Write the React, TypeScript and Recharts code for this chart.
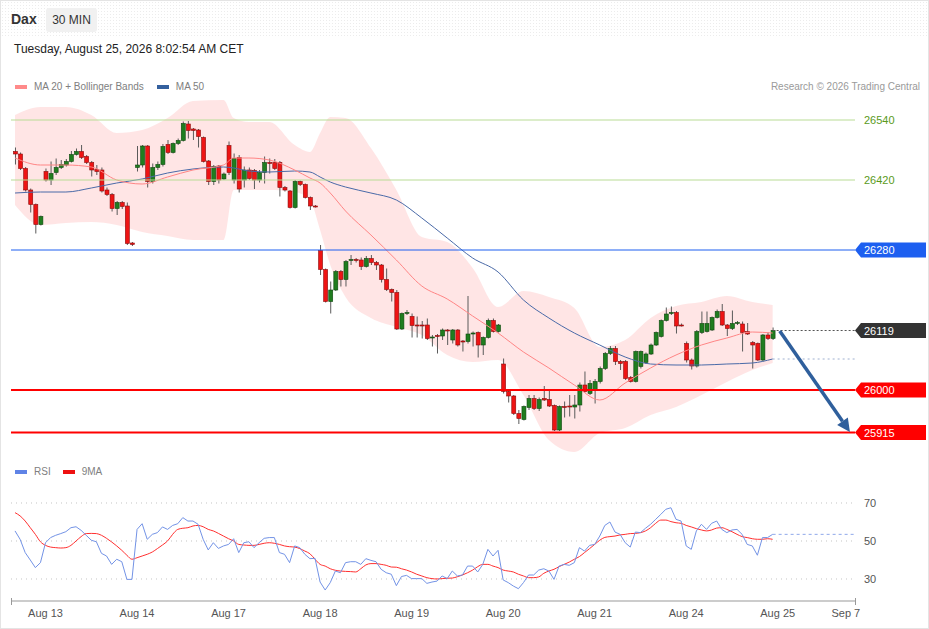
import React from 'react';
import { ComposedChart, Bar, Line, Area, XAxis, YAxis, ReferenceLine } from 'recharts';

// 30 min candles, Aug 12 (tail) .. Aug 25 open
const openP = [
  26477, 26472, 26443, 26400, 26371, 26331, 26437, 26420, 26435, 26445,
  26450, 26457, 26471, 26477, 26467, 26455, 26441, 26440, 26400, 26391,
  26363, 26375, 26368, 26294, 26445, 26450, 26488, 26417, 26445, 26451,
  26491, 26475, 26493, 26499, 26532, 26522, 26520, 26505, 26458, 26417,
  26448, 26422, 26489, 26420, 26465, 26420, 26440, 26439, 26420, 26435,
  26455, 26455, 26455, 26405, 26398, 26365, 26417, 26411, 26385, 26368,
  26279, 26241, 26177, 26200, 26237, 26221, 26259, 26261, 26260, 26247,
  26263, 26255, 26250, 26221, 26201, 26195, 26122, 26154, 26147, 26130,
  26130, 26130, 26105, 26109, 26108, 26120, 26100, 26120, 26098, 26097,
  26112, 26115, 26090, 26105, 26139, 26117, 26052, 25997, 25988, 25953,
  25941, 25965, 25983, 25963, 25983, 25981, 25969, 25920, 25967, 25968,
  25966, 25970, 26010, 25993, 26000, 26017, 26043, 26073, 26083, 26057,
  26057, 26025, 26017, 26047, 26055, 26072, 26090, 26107, 26139, 26153,
  26155, 26130, 26093, 26060, 26048, 26115, 26117, 26120, 26145, 26157,
  26130, 26123, 26133, 26132, 26117, 26095, 26093, 26060, 26110, 26103,
];
const highP = [
  26485, 26475, 26446, 26403, 26373, 26349, 26443, 26457, 26463, 26460,
  26462, 26478, 26483, 26490, 26470, 26458, 26450, 26445, 26405, 26394,
  26378, 26378, 26375, 26296, 26488, 26490, 26490, 26453, 26457, 26492,
  26500, 26495, 26503, 26537, 26538, 26524, 26522, 26507, 26460, 26450,
  26450, 26435, 26497, 26473, 26470, 26447, 26445, 26442, 26440, 26467,
  26463, 26462, 26458, 26408, 26400, 26420, 26419, 26413, 26387, 26370,
  26290, 26243, 26217, 26240, 26240, 26260, 26270, 26264, 26265, 26268,
  26270, 26258, 26252, 26243, 26203, 26200, 26155, 26160, 26153, 26147,
  26138, 26143, 26110, 26112, 26123, 26122, 26122, 26122, 26100, 26188,
  26117, 26117, 26107, 26143, 26143, 26132, 26063, 26000, 25990, 25960,
  25969, 25990, 25990, 25985, 26008, 26000, 25971, 25969, 25977, 25990,
  25990, 26015, 26037, 26020, 26022, 26047, 26076, 26088, 26088, 26060,
  26060, 26028, 26079, 26079, 26075, 26093, 26117, 26141, 26165, 26167,
  26158, 26133, 26097, 26063, 26120, 26157, 26157, 26147, 26161, 26172,
  26132, 26159, 26138, 26137, 26134, 26098, 26095, 26112, 26115, 26125,
];
const lowP = [
  26451, 26440, 26397, 26355, 26313, 26329, 26417, 26410, 26430, 26442,
  26447, 26455, 26469, 26462, 26452, 26427, 26430, 26395, 26388, 26357,
  26350, 26362, 26290, 26288, 26437, 26445, 26405, 26413, 26440, 26447,
  26472, 26473, 26490, 26497, 26503, 26500, 26485, 26455, 26410, 26410,
  26413, 26420, 26430, 26413, 26395, 26405, 26420, 26402, 26415, 26413,
  26433, 26440, 26387, 26397, 26363, 26363, 26408, 26383, 26360, 26365,
  26230, 26175, 26153, 26198, 26207, 26207, 26250, 26255, 26240, 26245,
  26250, 26240, 26215, 26198, 26177, 26120, 26120, 26150, 26105, 26105,
  26103, 26100, 26087, 26073, 26100, 26090, 26093, 26087, 26077, 26093,
  26087, 26065, 26070, 26103, 26115, 26115, 25993, 25975, 25950, 25932,
  25939, 25960, 25960, 25958, 25978, 25966, 25918, 25918, 25945, 25947,
  25943, 25957, 25995, 25990, 25973, 26013, 26040, 26070, 26050, 26040,
  26020, 26015, 26015, 26043, 26052, 26070, 26088, 26105, 26137, 26150,
  26113, 26127, 26055, 26041, 26045, 26112, 26115, 26118, 26143, 26128,
  26108, 26120, 26130, 26077, 26110, 26043, 26058, 26057, 26100, 26100,
];
const closeP = [
  26472, 26443, 26400, 26371, 26331, 26347, 26420, 26433, 26445, 26451,
  26457, 26471, 26477, 26465, 26455, 26440, 26437, 26398, 26391, 26363,
  26375, 26367, 26293, 26291, 26450, 26488, 26417, 26445, 26451, 26487,
  26475, 26493, 26499, 26533, 26519, 26519, 26507, 26457, 26417, 26447,
  26420, 26432, 26435, 26463, 26402, 26440, 26423, 26420, 26435, 26455,
  26453, 26443, 26405, 26400, 26365, 26417, 26411, 26385, 26368, 26367,
  26241, 26177, 26200, 26237, 26221, 26257, 26261, 26260, 26247, 26263,
  26255, 26250, 26221, 26201, 26195, 26122, 26153, 26155, 26129, 26128,
  26128, 26103, 26106, 26108, 26120, 26119, 26120, 26090, 26097, 26112,
  26114, 26090, 26105, 26139, 26117, 26130, 25997, 25988, 25953, 25943,
  25967, 25983, 25963, 25981, 25980, 25968, 25920, 25967, 25965, 25966,
  25970, 26010, 25997, 26013, 26017, 26043, 26073, 26083, 26057, 26053,
  26023, 26017, 26077, 26077, 26072, 26090, 26115, 26139, 26152, 26155,
  26128, 26129, 26060, 26048, 26117, 26133, 26133, 26145, 26157, 26130,
  26123, 26133, 26135, 26115, 26112, 26090, 26060, 26110, 26103, 26119,
];

// indicator lines read at these candle positions
const bandIdx = [0, 5, 10, 15, 20, 25, 30, 35, 41, 43, 46, 50, 55, 58, 60, 62, 65, 70, 75, 80, 85, 90, 95, 100, 105, 110, 115, 120, 125, 130, 135, 140, 145, 149];
const upperBand = [26550, 26566, 26566, 26550, 26514, 26520, 26544, 26578, 26580, 26544, 26536, 26536, 26490, 26476, 26514, 26546, 26544, 26484, 26400, 26306, 26296, 26244, 26166, 26198, 26186, 26164, 26086, 26100, 26144, 26168, 26176, 26188, 26176, 26170];
const lowerBand = [26370, 26330, 26334, 26336, 26330, 26316, 26308, 26300, 26300, 26400, 26400, 26400, 26396, 26380, 26320, 26250, 26186, 26144, 26126, 26110, 26070, 26056, 26060, 25990, 25900, 25876, 25914, 25924, 25950, 25966, 25990, 26016, 26040, 26054];
const ma20 = [26464, 26450, 26450, 26446, 26420, 26412, 26426, 26440, 26450, 26464, 26464, 26460, 26440, 26424, 26414, 26394, 26358, 26310, 26260, 26208, 26182, 26148, 26114, 26076, 26044, 26010, 25980, 26014, 26044, 26070, 26090, 26104, 26116, 26114];
const ma50 = [26394, 26396, 26396, 26404, 26414, 26422, 26434, 26442, 26446, 26444, 26438, 26436, 26438, 26436, 26426, 26416, 26406, 26394, 26380, 26344, 26304, 26264, 26236, 26180, 26144, 26114, 26090, 26066, 26052, 26050, 26050, 26052, 26054, 26062];

const rsiVals = [
  55.3, 50.9, 43.9, 40, 36, 38.6, 49.1, 51.8, 53, 53.9,
  54.9, 57, 57.5, 55.6, 53, 50.4, 49.6, 43.5, 42.1, 37.7,
  40.4, 39.1, 29.8, 29.8, 56.1, 59.1, 50.9, 53.5, 54.4, 57.4,
  56.1, 58.2, 59.1, 62.3, 60.5, 60.5, 58.8, 50.9, 45.3, 49.1,
  46.1, 47.4, 48.2, 51.2, 43.9, 49.1, 49.6, 46.5, 49.1, 51.4,
  51.8, 51.8, 43.9, 43, 38.6, 47.4, 46.5, 43, 40.7, 40.9,
  28.4, 24.2, 28.1, 34.2, 33.3, 38.6, 39.1, 39.1, 37.7, 40.7,
  39.8, 39.1, 35.1, 33.3, 32.5, 26.5, 31.3, 31.9, 30.2, 30.2,
  30.2, 27.7, 28.4, 28.9, 31.6, 30.2, 34.2, 31.6, 32.1, 36.8,
  36.8, 33.7, 37.7, 45.6, 42.1, 45.1, 29.5, 28.1, 26.3, 24.9,
  28.1, 32.1, 32.1, 34.7, 35.4, 34.2, 29.8, 36.8, 37.7, 37.2,
  38.6, 46.5, 44.7, 47.7, 48.2, 52.6, 58.2, 60, 54.7, 53.5,
  49.1, 46.8, 54.7, 54.4, 56.7, 58.8, 61.4, 64, 66.7, 67.5,
  61.4, 60.5, 47.4, 45.6, 55.3, 58.8, 56.1, 59.3, 60.5, 56.1,
  54.4, 55.8, 56.1, 53.5, 48.2, 47.4, 42.5, 51.8, 51.8, 53.5,
];
const rsiMaVals = [
  64.9, 63.2, 60.5, 57, 53.5, 49.6, 47.7, 46.8, 46.5, 46.3,
  46.5, 47.7, 50, 52.3, 53.9, 54, 53.9, 53, 51.4, 49.5,
  47.4, 45.1, 42.5, 40.4, 41.2, 42.1, 43, 44.2, 46, 47.9,
  50, 53.5, 56.1, 56.7, 57, 57.9, 58.2, 57.5, 56.1, 55.3,
  54, 52.6, 51.2, 50, 48.2, 47.9, 47.7, 47.7, 48.2, 48.8,
  49.1, 48.8, 48.2, 47.4, 47, 46.8, 46, 44.7, 43.3, 40.4,
  37.7, 36.8, 35.4, 34.6, 34.2, 34, 33.9, 33.7, 35.4, 37.4,
  38.1, 38.1, 37.7, 37.2, 36.3, 36.2, 35.4, 34.7, 33.7, 32.5,
  31.6, 30.7, 30.2, 30, 30.2, 30.4, 30.5, 31.2, 32.1, 33.3,
  34.7, 36.5, 37.7, 37.7, 36.8, 36, 34.7, 34.2, 33.7, 32.5,
  31.6, 30.7, 30.7, 31.1, 33, 34.2, 35.1, 36.5, 37.7, 38.9,
  40.4, 41.8, 43.9, 46, 48.2, 50.4, 51.9, 52.3, 52.6, 53.2,
  53.5, 53.9, 54, 54.4, 55.3, 57, 59.3, 61, 61, 60.2,
  59.6, 59.3, 58.2, 57.4, 56.5, 55.8, 55.3, 55.8, 56.8, 57,
  56.1, 54.9, 53.5, 52.3, 51.8, 51.2, 50.9, 50.9, 51.2, 50.9,
];

const tickIdx = [6, 24, 42, 60, 78, 96, 114, 132, 150, 163.4];
const tickLabels = ['Aug 13', 'Aug 14', 'Aug 17', 'Aug 18', 'Aug 19', 'Aug 20', 'Aug 21', 'Aug 24', 'Aug 25', 'Sep 7'];

const lastPrice = 26119;
const arrowFrom = { i: 150.4, p: 26118 };
const arrowTo = { i: 164.2, p: 25916 };

const X_DOMAIN: [number, number] = [-0.79, 165.2];
const FONT = '"Liberation Sans", Arial, sans-serif';

const rows: any[] = closeP.map((c, i) => ({
  i,
  open: openP[i],
  high: highP[i],
  low: lowP[i],
  close: c,
  rsi: rsiVals[i],
  rsiMa: rsiMaVals[i],
}));
bandIdx.forEach((bi, k) => {
  Object.assign(rows[bi], { upper: upperBand[k], lower: lowerBand[k], ma20: ma20[k], ma50: ma50[k] });
});

const Candle = (props: any) => {
  const { x, y, width, height, payload } = props;
  if (!payload || y == null) return null;
  const top = Math.min(y, y + height);
  const span = Math.abs(height);
  const k = payload.high === payload.low ? 0 : span / (payload.high - payload.low);
  const py = (v: number) => top + (payload.high - v) * k;
  const cx = x + width / 2;
  const up = payload.close >= payload.open;
  const bt = py(Math.max(payload.open, payload.close));
  const bb = py(Math.min(payload.open, payload.close));
  return (
    <g>
      <line x1={cx} x2={cx} y1={top} y2={top + span} stroke="#5a5a5a" strokeWidth={1} />
      <rect
        x={x}
        y={bt}
        width={width}
        height={Math.max(1, bb - bt)}
        fill={up ? '#1f7d1f' : '#ee1414'}
        stroke={up ? '#0e480e' : '#8a0b0b'}
        strokeWidth={0.6}
      />
    </g>
  );
};

// price tag on the right of a level line
const tag = (text: string, color: string, boxed: boolean) => (props: any) => {
  const vb = props.viewBox || {};
  const r = vb.x + vb.width;
  const y = vb.y;
  if (!boxed) {
    return (
      <text x={r + 9} y={y + 4} fontSize={11} fill={color} fontFamily={FONT}>
        {text}
      </text>
    );
  }
  return (
    <g>
      <path d={`M${r} ${y} L${r + 6} ${y - 7.5} L${r + 71} ${y - 7.5} L${r + 71} ${y + 7.5} L${r + 6} ${y + 7.5} Z`} fill={color} />
      <text x={r + 9} y={y + 4} fontSize={11} fill="#fff" fontFamily={FONT}>
        {text}
      </text>
    </g>
  );
};

const Arrow = (props: any) => {
  const { x1, y1, x2, y2 } = props;
  const dx = x2 - x1;
  const dy = y2 - y1;
  const len = Math.sqrt(dx * dx + dy * dy);
  const ux = dx / len;
  const uy = dy / len;
  const hl = 13;
  const hw = 6.5;
  const bx = x2 - ux * hl;
  const by = y2 - uy * hl;
  return (
    <g>
      <line x1={x1} y1={y1} x2={bx} y2={by} stroke="#2f5f9c" strokeWidth={3.5} />
      <path d={`M${x2} ${y2} L${bx - uy * hw} ${by + ux * hw} L${bx + uy * hw} ${by - ux * hw} Z`} fill="#2f5f9c" />
    </g>
  );
};

const Swatch = ({ color }: { color: string }) => (
  <span style={{ display: 'inline-block', width: 12, height: 4, background: color, marginRight: 7, verticalAlign: 'middle' }} />
);

const App = () => {
  return (
    <div
      style={{
        position: 'absolute',
        left: 0,
        top: 0,
        width: 929,
        height: 629,
        boxSizing: 'border-box',
        border: '1px solid #e4e4e4',
        background: '#fff',
        fontFamily: FONT,
        overflow: 'hidden',
      }}
    >
      {/* header strip */}
      <div
        style={{
          position: 'absolute',
          left: 0,
          top: 0,
          width: 929,
          height: 36,
          backgroundImage: 'radial-gradient(#ececec 0.7px, transparent 0.8px)',
          backgroundSize: '3px 3px',
        }}
      />
      <div style={{ position: 'absolute', left: 10, top: 10, fontSize: 14, fontWeight: 700, color: '#333' }}>Dax</div>
      <div
        style={{
          position: 'absolute',
          left: 45,
          top: 7,
          width: 51,
          height: 24,
          lineHeight: '24px',
          textAlign: 'center',
          background: '#f1f1f1',
          borderRadius: 3,
          fontSize: 12,
          color: '#333',
        }}
      >
        30 MIN
      </div>
      <div style={{ position: 'absolute', left: 13, top: 41, fontSize: 12, color: '#222' }}>
        Tuesday, August 25, 2026 8:02:54 AM CET
      </div>
      <div style={{ position: 'absolute', left: 14, top: 80, fontSize: 10, color: '#808080', whiteSpace: 'nowrap' }}>
        <Swatch color="#ff8a8a" />
        <span style={{ marginRight: 13 }}>MA 20 + Bollinger Bands</span>
        <Swatch color="#34609e" />
        <span>MA 50</span>
      </div>
      <div style={{ position: 'absolute', right: 8, top: 80, fontSize: 10, color: '#9a9a9a' }}>
        Research © 2026 Trading Central
      </div>
      <div style={{ position: 'absolute', left: 14, top: 465, fontSize: 10, color: '#808080', whiteSpace: 'nowrap' }}>
        <Swatch color="#5f83e6" />
        <span style={{ marginRight: 12 }}>RSI</span>
        <Swatch color="#ee1111" />
        <span>9MA</span>
      </div>

      <div style={{ position: 'absolute', left: -1, top: -1 }}>
        <ComposedChart width={929} height={470} data={rows} margin={{ top: 95, right: 74, bottom: 15, left: 11 }}>
          <XAxis dataKey="i" type="number" domain={X_DOMAIN} allowDataOverflow hide />
          <YAxis type="number" domain={[25870, 26590]} allowDataOverflow hide />
          <Area
            dataKey={(d: any) => (d.upper == null ? null : [d.lower, d.upper])}
            type="monotone"
            connectNulls
            fill="#ffe1e1"
            fillOpacity={0.85}
            stroke="none"
            isAnimationActive={false}
          />
          <Line dataKey="ma50" type="monotone" connectNulls stroke="#4a6aa8" strokeWidth={1} dot={false} isAnimationActive={false} />
          <Line dataKey="ma20" type="monotone" connectNulls stroke="#ff8585" strokeWidth={1} dot={false} isAnimationActive={false} />
          <ReferenceLine y={26540} stroke="#b9dc95" strokeWidth={1} label={tag('26540', '#5a9a1c', false)} />
          <ReferenceLine y={26420} stroke="#b9dc95" strokeWidth={1} label={tag('26420', '#5a9a1c', false)} />
          <ReferenceLine y={26280} stroke="#1d5ff0" strokeWidth={1} label={tag('26280', '#1d5ff0', true)} />
          <ReferenceLine y={26000} stroke="#ff0000" strokeWidth={2} label={tag('26000', '#ff0000', true)} />
          <ReferenceLine y={25915} stroke="#ff0000" strokeWidth={2} label={tag('25915', '#ff0000', true)} />
          <ReferenceLine
            segment={[{ x: 149, y: lastPrice }, { x: X_DOMAIN[1], y: lastPrice }]}
            stroke="#555"
            strokeDasharray="2 2"
            label={tag(String(lastPrice), '#333333', true)}
          />
          <ReferenceLine
            segment={[{ x: 149, y: ma50[ma50.length - 1] }, { x: X_DOMAIN[1], y: ma50[ma50.length - 1] }]}
            stroke="#9fb0d0"
            strokeDasharray="2 3"
          />
          <Bar
            dataKey={(d: any) => [d.low, d.high]}
            barSize={4}
            shape={(p: any) => <Candle {...p} />}
            isAnimationActive={false}
          />
          <ReferenceLine
            segment={[{ x: arrowFrom.i, y: arrowFrom.p }, { x: arrowTo.i, y: arrowTo.p }]}
            shape={(p: any) => <Arrow {...p} />}
          />
        </ComposedChart>
      </div>

      <div style={{ position: 'absolute', left: -1, top: 479 }}>
        <ComposedChart width={929} height={150} data={rows} margin={{ top: 16, right: 74, bottom: 0, left: 11 }}>
          <XAxis
            dataKey="i"
            type="number"
            domain={X_DOMAIN}
            allowDataOverflow
            ticks={tickIdx}
            interval={0}
            tickFormatter={(v: number) => tickLabels[tickIdx.indexOf(v)] || ''}
            tick={{ fontSize: 11, fill: '#555', fontFamily: FONT }}
            tickLine={false}
            axisLine={{ stroke: '#999' }}
            height={29}
          />
          <YAxis type="number" domain={[18.42, 73.68]} allowDataOverflow hide />
          <ReferenceLine y={70} stroke="#c4c4c4" strokeDasharray="1 4" label={tag('70', '#555', false)} />
          <ReferenceLine y={50} stroke="#c4c4c4" strokeDasharray="1 4" label={tag('50', '#555', false)} />
          <ReferenceLine y={30} stroke="#c4c4c4" strokeDasharray="1 4" label={tag('30', '#555', false)} />
          <ReferenceLine
            segment={[{ x: 149, y: rsiVals[rsiVals.length - 1] }, { x: X_DOMAIN[1], y: rsiVals[rsiVals.length - 1] }]}
            stroke="#8fa8ea"
            strokeDasharray="3 3"
          />
          <Line dataKey="rsiMa" type="monotone" stroke="#ff3030" strokeWidth={1} dot={false} isAnimationActive={false} />
          <Line dataKey="rsi" type="linear" stroke="#7393e6" strokeWidth={1} dot={false} isAnimationActive={false} />
        </ComposedChart>
      </div>
      {/* bracket ends of the time axis */}
      <div style={{ position: 'absolute', left: 10, top: 597, width: 1, height: 7, background: '#999' }} />
      <div style={{ position: 'absolute', left: 854, top: 597, width: 1, height: 7, background: '#999' }} />
    </div>
  );
};

export default App;
